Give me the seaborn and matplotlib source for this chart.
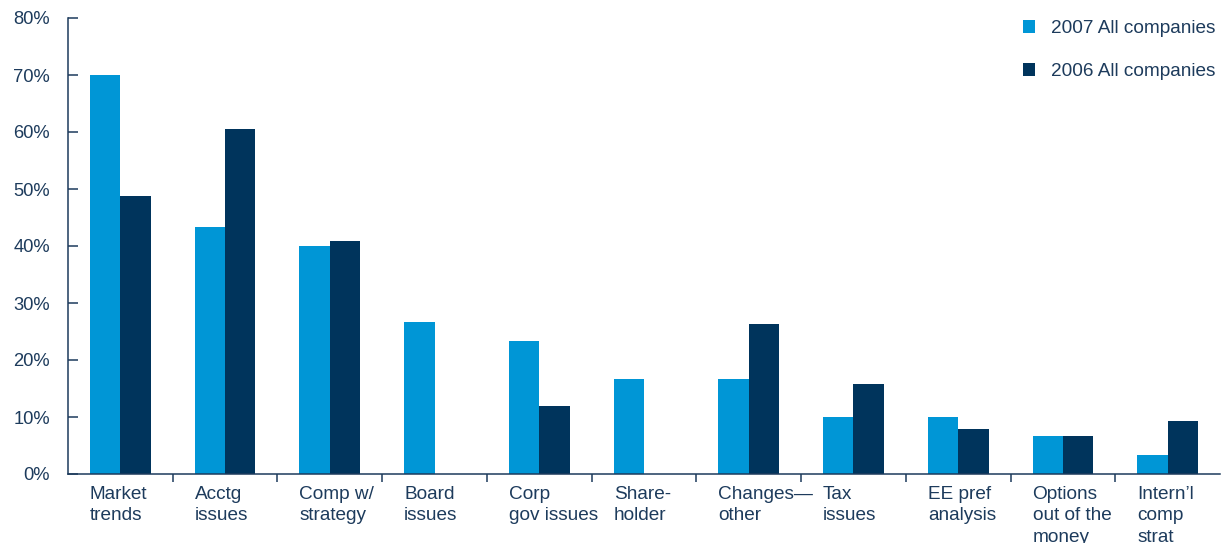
import matplotlib
matplotlib.use("Agg")
import matplotlib.pyplot as plt
import seaborn as sns
import pandas as pd
from matplotlib.ticker import FixedLocator, PercentFormatter

categories = [
    "Market\ntrends", "Acctg\nissues", "Comp w/\nstrategy", "Board\nissues",
    "Corp\ngov issues", "Share-\nholder", "Changes\u2014\nother", "Tax\nissues",
    "EE pref\nanalysis", "Options\nout of the\nmoney", "Intern\u2019l\ncomp\nstrat",
]
values_2007 = [70.0, 43.3, 40.0, 26.7, 23.3, 16.7, 16.7, 10.0, 10.0, 6.7, 3.3]
values_2006 = [48.8, 60.5, 40.9, 0.0, 11.9, 0.0, 26.3, 15.8, 7.9, 6.7, 9.3]
series = ["2007 All companies", "2006 All companies"]
yticks = [0, 10, 20, 30, 40, 50, 60, 70, 80]

TEXT = "#1d3b5c"
AXIS = "#1d3b5c"
palette = {series[0]: "#0096d6", series[1]: "#00345c"}

df = pd.DataFrame({
    "category": categories * 2,
    "series": [series[0]] * len(categories) + [series[1]] * len(categories),
    "value": values_2007 + values_2006,
})

sns.set_theme(style="white")
plt.rcParams["font.family"] = ["Liberation Sans", "DejaVu Sans"]

fig = plt.figure(figsize=(12.3, 5.43), dpi=100)
ax = fig.add_axes([68 / 1230, 1 - 474 / 543, (1220 - 68) / 1230, (474 - 18) / 543])

bar_w = 0.58
sns.barplot(data=df, x="category", y="value", hue="series", order=categories,
            hue_order=series, palette=palette, width=bar_w, gap=0,
            saturation=1, linewidth=0, ax=ax)

ax.set_xlim(-0.5, len(categories) - 0.5)
ax.set_ylim(0, 80)
ax.set_xlabel("")
ax.set_ylabel("")

# y axis
ax.yaxis.set_major_locator(FixedLocator(yticks))
ax.yaxis.set_major_formatter(PercentFormatter(decimals=0))
ax.tick_params(axis="y", which="major", direction="in", length=7.5, width=1.1,
               color=AXIS, labelcolor=TEXT, labelsize=13.2, pad=13, left=True)

# x axis: labels start at the left edge of each group, ticks between groups
n = len(categories)
ax.set_xticks([i - bar_w / 2 for i in range(n)])
ax.set_xticklabels(categories, ha="left", va="top", linespacing=1.36)
ax.set_xticks([i + 0.5 for i in range(n - 1)], minor=True)
ax.tick_params(axis="x", which="major", length=0, labelcolor=TEXT,
               labelsize=13.7, pad=8.5)
ax.tick_params(axis="x", which="minor", direction="out", length=6, width=1.1,
               color=AXIS, bottom=True)

for side in ["top", "right"]:
    ax.spines[side].set_visible(False)
for side in ["left", "bottom"]:
    ax.spines[side].set_color(AXIS)
    ax.spines[side].set_linewidth(1.1)

leg = ax.legend(loc="upper right", bbox_to_anchor=(0.998, 1.0), frameon=False,
                fontsize=13.7, handlelength=0.64, handleheight=0.64,
                handletextpad=0.85, labelspacing=1.38, borderaxespad=0,
                borderpad=0.1)
for t in leg.get_texts():
    t.set_color(TEXT)

fig.savefig("out.png", dpi=100)
